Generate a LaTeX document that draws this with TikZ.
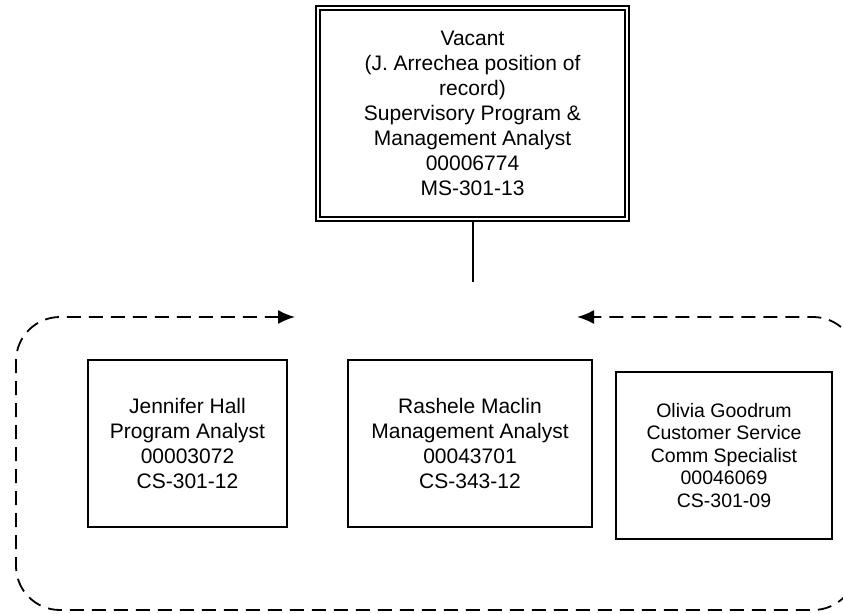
\documentclass[tikz,border=0pt]{standalone}
\usepackage{fontspec}
\setmainfont{Liberation Sans}
\usetikzlibrary{arrows.meta}
\begin{document}
\begin{tikzpicture}[x=1pt,y=-1pt,
  posbox/.style={draw,line width=1.9pt,inner sep=0pt,align=center,
    font=\fontsize{21}{25}\selectfont},
  smallbox/.style={posbox,font=\fontsize{19.5}{22.5}\selectfont},
  topbox/.style={posbox,double,double distance=2.2pt,line width=1.8pt},
  link/.style={line width=2pt},
  loop/.style={dash pattern=on 14pt off 8pt,line width=1.8pt,rounded corners=44pt,
    {Latex[length=17pt,width=14pt]}-{Latex[length=17pt,width=14pt]}}
]
\useasboundingbox (0,0) rectangle (843,613);
\clip (0,0) rectangle (843,613);
\node[topbox,minimum width=309pt,minimum height=211pt] (top) at (472.5,113.5)
  {Vacant\\(J. Arrechea position of\\record)\\Supervisory Program \&\\Management Analyst\\00006774\\MS-301-13};
\coordinate (stub) at (472.5,282);
\draw[link] (top.south) -- (stub);
\node[posbox,minimum width=199pt,minimum height=167pt] (jh) at (187.5,443.5)
  {Jennifer Hall\\Program Analyst\\00003072\\CS-301-12};
\node[posbox,minimum width=244pt,minimum height=167pt] (rm) at (470,443.5)
  {Rashele Maclin\\Management Analyst\\00043701\\CS-343-12};
\node[smallbox,minimum width=216pt,minimum height=167pt] (og) at (724,455.5)
  {Olivia Goodrum\\Customer Service\\Comm Specialist\\00046069\\CS-301-09};
\coordinate (ltip) at (295,317);
\coordinate (rtip) at (577,317);
\draw[loop] (ltip) -- (16,317) -- (16,610) -- (857,610) -- (857,317) -- (rtip);
\end{tikzpicture}
\end{document}
